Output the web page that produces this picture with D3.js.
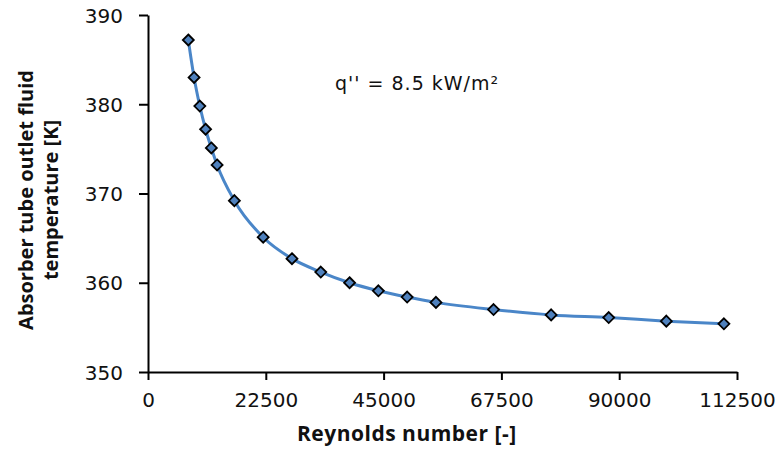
<!DOCTYPE html>
<html><head><meta charset="utf-8">
<script src="https://cdn.jsdelivr.net/npm/d3@7"></script>
<style>body{margin:0;background:#fff}svg{display:block}</style>
</head><body>
<svg id="c" width="782" height="449"></svg>
<script>
const reynolds = [7700, 8800, 9900, 11000, 12100, 13200, 16500, 22000, 27500, 33000, 38500, 44000, 49500, 55000, 66000, 77000, 88000, 99000, 110000];
const temperature = [387.2, 383.0, 379.8, 377.2, 375.1, 373.2, 369.2, 365.1, 362.7, 361.2, 360.0, 359.1, 358.4, 357.8, 357.0, 356.4, 356.1, 355.7, 355.4];
const xTicks = [0, 22500, 45000, 67500, 90000, 112500];
const yTicks = [350, 360, 370, 380, 390];
const xTitle = "Reynolds number [-]";
const yTitleLines = ["Absorber tube outlet fluid", "temperature [K]"];
const annotation = "q'' = 8.5 kW/m²";

const svg = d3.select("#c");
const L = 148, R = 737, T = 15, B = 372;
const x = d3.scaleLinear().domain([0, 112500]).range([L, R]);
const y = d3.scaleLinear().domain([350, 390]).range([B, T]);
const data = reynolds.map((r, i) => ({r, t: temperature[i]}));
const tickFont = "'DejaVu Sans', Verdana, sans-serif";

const xa = svg.append("g").attr("transform", `translate(0,${B})`)
  .call(d3.axisBottom(x).tickValues(xTicks).tickFormat(d3.format("d")).tickSize(8).tickSizeOuter(0).tickPadding(13));
const ya = svg.append("g").attr("transform", `translate(${L},0)`)
  .call(d3.axisLeft(y).tickValues(yTicks).tickFormat(d3.format("d")).tickSize(9).tickSizeOuter(0).tickPadding(16));
[xa, ya].forEach(g => {
  g.select(".domain").attr("stroke", "#000").attr("stroke-width", 2);
  g.selectAll(".tick line").attr("stroke", "#000").attr("stroke-width", 2);
  g.selectAll(".tick text").attr("font-family", tickFont).attr("font-size", 20).attr("fill", "#111");
});
ya.selectAll(".tick text").attr("dy", "0.36em");

const line = d3.line().x(d => x(d.r)).y(d => y(d.t)).curve(d3.curveMonotoneX);
svg.append("path").datum(data).attr("d", line).attr("fill", "none")
  .attr("stroke", "#4a86c8").attr("stroke-width", 3);

svg.append("g").selectAll("path").data(data).join("path")
  .attr("transform", d => `translate(${x(d.r)},${y(d.t)})`)
  .attr("d", "M0,-5.5L5.5,0L0,5.5L-5.5,0Z")
  .attr("fill", "#4f81bd").attr("stroke", "#000").attr("stroke-width", 1.8);

svg.append("text").attr("x", 297).attr("y", 441)
  .attr("font-family", "'Open Sans', sans-serif").attr("font-weight", "bold").attr("font-size", 21)
  .attr("letter-spacing", 0.5).attr("fill", "#111").text(xTitle);

const yt = svg.append("g").attr("transform", `translate(0,200) rotate(-90)`);
yTitleLines.forEach((s, i) => {
  yt.append("text").attr("x", 0).attr("y", 33 + i * 25).attr("text-anchor", "middle")
    .attr("font-family", "'Open Sans', sans-serif").attr("font-weight", "bold").attr("font-size", 20)
    .attr("fill", "#111").text(s);
});

svg.append("text").attr("x", 335).attr("y", 90)
  .attr("font-family", tickFont).attr("font-size", 19).attr("letter-spacing", 1).attr("fill", "#111").text(annotation);
</script>
</body></html>
